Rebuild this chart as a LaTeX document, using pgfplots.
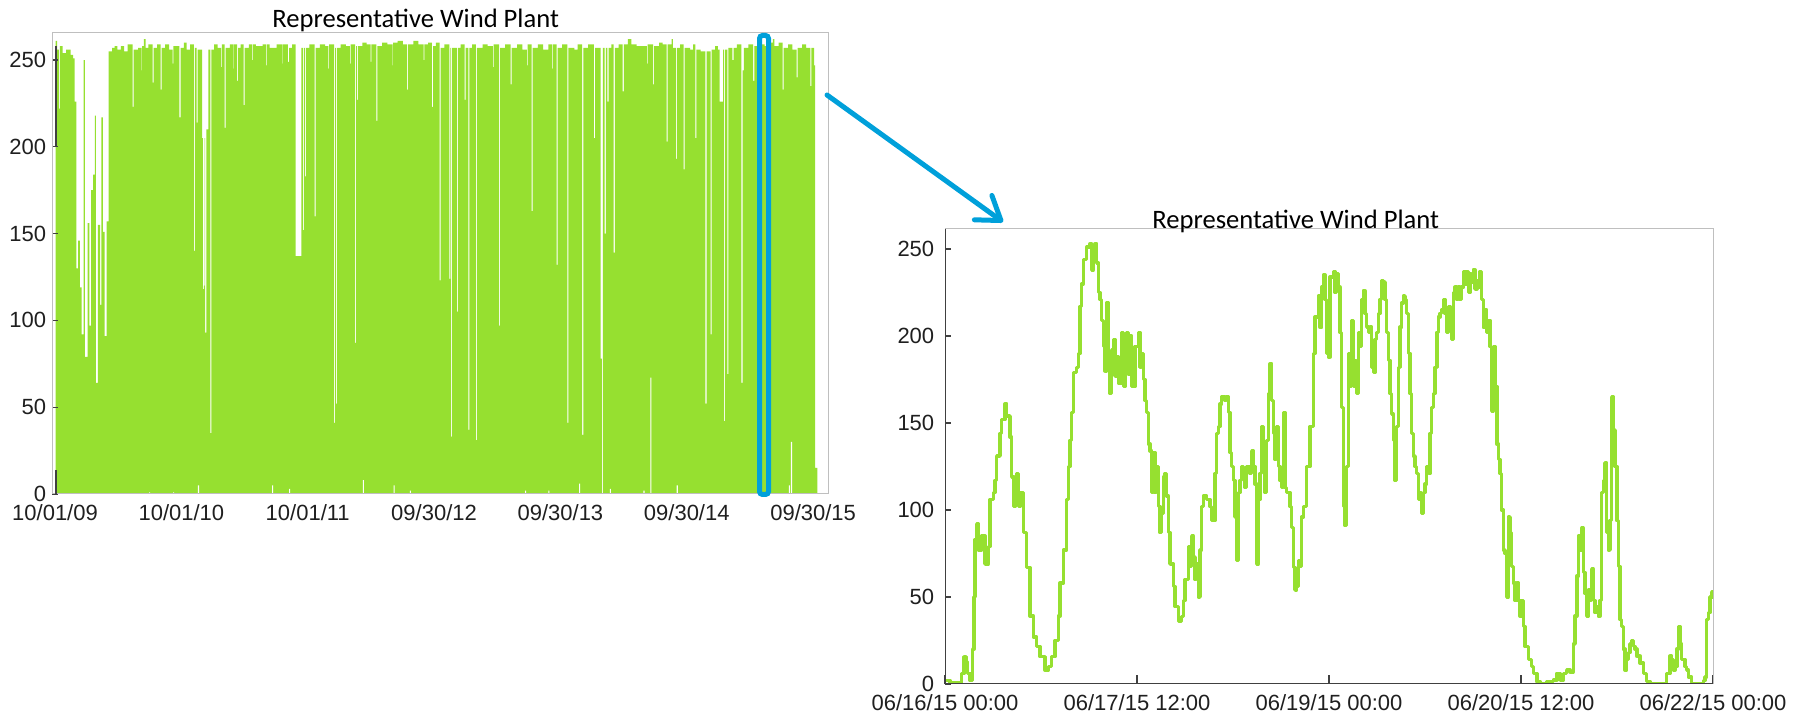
\documentclass[border=0pt]{standalone}
\usepackage{pgfplots}
\pgfplotsset{compat=1.18}
\usepackage{fontspec}
\setmainfont{Liberation Sans}
\newfontfamily\calibri{Carlito}
\usetikzlibrary{arrows.meta}
\definecolor{windgreen}{RGB}{150,224,48}
\definecolor{arrowblue}{RGB}{0,160,218}
\definecolor{framegrey}{RGB}{191,191,191}
\definecolor{axisdark}{RGB}{64,64,64}
\begin{document}
\begin{tikzpicture}
\useasboundingbox (0,0) rectangle (902pt,357.5pt);
\pgfplotsset{
  common/.style={
    scale only axis, anchor=south west,
    axis line style={framegrey, line width=0.5pt},
    tick align=inside, tick pos=left,
    tick style={axisdark, line width=0.6pt},
    major tick length=3pt,
    ytick={0,50,100,150,200,250},
    /pgf/number format/assume math mode=true,
    ticklabel style={font=\fontsize{11}{12}\selectfont, text=black!88, inner sep=0.5pt},
    xticklabel style={yshift=-4.7pt},
  }
}
% ---------------- left: six years ----------------
\begin{axis}[common, at={(26pt,110.5pt)}, width=388pt, height=230.5pt,
  xmin=-8.7, xmax=2233, ymin=0, ymax=265.6,
  xtick={0,365,730,1095,1460,1825,2190},
  xticklabels={10/01/09,10/01/10,10/01/11,09/30/12,09/30/13,09/30/14,09/30/15},
  xtick style={draw=none},
  yticklabel style={xshift=-2.2pt},
  axis on top]
% maximum envelope
\addplot[const plot, fill=windgreen, draw=none] coordinates {
(2,261) (6,256) (11,222) (14,258) (22,254) (32,256) (45,253) (52,251) (57,226)
(62,130) (67,146) (72,119) (77,92) (83,250) (86,79) (94,156) (99,97) (104,175)
(110,184) (115,218) (118,64) (124,155) (130,109) (134,217) (138,151) (143,91)
(149,157) (155,255) (165,257) (172,258) (180,256) (190,258) (200,255) (210,259)
(224,223) (227,256) (240,257) (250,244) (252,258) (257,262) (262,257) (270,259)
(282,237) (285,257) (295,259) (305,233) (308,257) (318,259) (330,256) (340,248)
(342,258) (359,217) (363,257) (372,260) (380,256) (390,259) (401,140) (404,257)
(409,214) (412,256) (425,205) (427,118) (430,120) (432,205) (434,93) (437,210)
(443,256) (449,35) (452,256) (460,259) (470,257) (480,246) (482,259) (490,211)
(493,257) (505,259) (515,245) (517,259) (526,238) (529,257) (536,259) (545,224)
(548,257) (560,259) (570,250) (572,259) (580,258) (600,259) (610,247) (612,259)
(620,257) (640,259) (655,248) (657,259) (673,249) (676,257) (685,259) (695,137)
(712,257) (716,152) (719,257) (722,183) (725,257) (735,259) (750,160) (753,257)
(765,259) (780,258) (790,245) (792,259) (806,41) (809,257) (811,52) (814,257)
(825,259) (840,258) (852,248) (854,259) (867,87) (870,258) (872,227) (875,258)
(888,260) (900,259) (912,249) (914,259) (928,215) (931,258) (945,260) (960,259)
(975,247) (977,260) (990,261) (1005,259) (1017,233) (1020,259) (1035,261)
(1050,259) (1065,250) (1067,259) (1078,260) (1089,223) (1092,258) (1100,260)
(1111,123) (1114,257) (1125,259) (1139,124) (1142,257) (1144,33) (1147,257)
(1161,105) (1164,257) (1172,259) (1183,227) (1186,257) (1194,37) (1197,257)
(1205,259) (1216,31) (1219,257) (1235,259) (1250,258) (1265,246) (1267,259)
(1283,97) (1286,257) (1300,259) (1316,236) (1319,257) (1335,259) (1350,256)
(1363,247) (1365,259) (1377,163) (1380,257) (1395,259) (1410,256) (1425,259)
(1437,245) (1439,259) (1449,132) (1452,257) (1465,259) (1480,41) (1483,257)
(1500,256) (1510,259) (1523,34) (1526,257) (1540,259) (1557,205) (1560,257)
(1576,78) (1580,0) (1583,257) (1588,150) (1591,257) (1596,226) (1599,257)
(1607,259) (1614,139) (1617,257) (1628,259) (1640,232) (1643,259) (1655,262)
(1665,259) (1680,258) (1695,258) (1710,248) (1712,259) (1728,236) (1731,258)
(1745,260) (1755,259) (1767,203) (1770,259) (1781,262) (1785,257) (1794,193)
(1797,257) (1806,259) (1816,187) (1819,257) (1835,256) (1843,259) (1850,205)
(1853,256) (1865,255) (1879,52) (1882,255) (1894,92) (1897,256) (1907,258)
(1915,256) (1920,226) (1930,256) (1933,42) (1936,256) (1942,69) (1945,257)
(1957,250) (1960,257) (1970,259) (1983,64) (1986,244) (1990,257) (2003,259)
(2017,238) (2020,258) (2035,259) (2050,258) (2062,260) (2074,262) (2078,258)
(2090,260) (2102,233) (2105,257) (2118,259) (2130,256) (2142,240) (2145,257)
(2158,259) (2170,257) (2182,235) (2185,257) (2193,247) (2196,15) (2202,15)
} \closedcycle;
% minimum envelope (gaps at the bottom)
\addplot[const plot, fill=white, draw=none] coordinates {
(2,0) (272,1) (275,0) (341,1) (344,0) (413,5) (416,0) (627,5) (630,0) (676,3)
(679,0) (889,8) (892,0) (978,5) (981,0) (1025,2) (1028,0) (1358,2) (1361,0)
(1425,2) (1428,0) (1514,6) (1517,0) (1603,3) (1606,0) (1700,2) (1703,0)
(1720,67) (1723,0) (1796,5) (1799,0) (2120,5) (2123,0) (2126,30) (2129,0) (2202,0)
} \closedcycle;
\end{axis}
% partial dark y axis line of the left panel
\draw[axisdark, line width=0.9pt] (28pt,334.5pt) -- (28pt,284pt);
\draw[axisdark, line width=0.9pt] (28pt,110.5pt) -- (28pt,122.5pt);
% ---------------- right: six days ----------------
\begin{axis}[common, at={(472.5pt,15.5pt)}, width=384pt, height=227.5pt,
  xmin=0, xmax=144, ymin=0, ymax=261.5,
  xtick={0,36,72,108,144},
  xticklabels={06/16/15 00:00,06/17/15 12:00,06/19/15 00:00,06/20/15 12:00,06/22/15 00:00},
  xtick style={/pgfplots/major tick length=4.5pt},
  yticklabel style={xshift=-4.7pt}]
\addplot[const plot, windgreen, line width=1.8pt, line join=round] coordinates {
(0,2) (0.94,0.5) (2.81,0) (3.12,6) (3.56,15.7) (3.94,13) (4.19,6) (4.69,2) (5.19,20)
(5.44,50) (5.62,83) (5.94,92) (6.25,77) (6.87,85) (7.5,69) (8.12,79) (8.44,106)
(9.06,110) (9.37,117) (9.69,131) (10.31,144) (10.62,152) (11.25,161) (11.56,154)
(12.19,142) (12.5,119) (12.81,102) (13.12,119) (13.44,121) (13.75,102) (14.06,110)
(14.69,87) (15.31,67) (15.94,39) (16.56,27) (17.19,21.5) (17.81,15.7) (18.75,8)
(19.37,10) (20,15.7) (20.62,25) (21.25,39) (21.56,58) (22.19,77) (22.81,106)
(23.12,125) (23.44,140) (23.75,156) (24.06,179) (24.69,182) (25,190) (25.31,217)
(25.62,230) (25.94,244) (26.56,251) (27.19,253) (27.5,238) (27.81,249.5) (28.12,253)
(28.44,242) (28.75,225) (29.06,221) (29.37,209) (29.69,194) (30,180) (30.31,219)
(30.62,182) (30.94,167) (31.25,192) (31.56,198) (31.87,177) (32.19,188) (32.5,173)
(33.12,202) (33.44,171) (33.75,180) (34.06,202) (34.37,178) (34.69,200) (35,171)
(35.62,194) (36.25,202) (36.56,182) (36.87,190) (37.19,175) (37.5,163) (37.81,156)
(38.12,138) (38.44,134) (38.75,110) (39.06,133) (39.37,110) (39.69,125) (40,102)
(40.31,87) (40.62,98) (40.94,119) (41.25,121) (41.56,108) (41.87,87) (42.19,69)
(42.81,56) (43.12,44.5) (43.75,36) (44.37,38.7) (44.69,48) (45,60) (45.62,79)
(45.94,67.5) (46.25,85) (46.56,73) (46.87,60) (47.19,69) (47.5,50) (47.81,77)
(48.12,102) (48.44,108) (49.06,106) (49.69,102) (50,94) (50.62,121) (50.94,144)
(51.25,148) (51.56,161) (51.87,165) (52.5,163) (52.81,165) (53.12,156) (53.44,133)
(53.75,125) (54.06,117) (54.37,96) (54.69,71) (55,110) (55.31,117) (55.62,125)
(55.94,119) (56.25,113) (56.56,125) (57.19,121) (57.5,134) (57.81,125) (58.12,115)
(58.44,69) (58.75,106) (59.06,121) (59.37,148) (59.69,129) (60,110) (60.31,140)
(60.62,167) (60.94,184) (61.25,163) (61.56,144) (61.87,129) (62.19,148) (62.5,125)
(62.81,117) (63.12,113) (63.44,156) (63.75,113) (64.06,110) (64.69,102) (65,90)
(65.31,67) (65.62,54) (65.94,56) (66.25,71) (66.56,67.5) (66.87,96) (67.19,102)
(67.81,125) (68.44,148) (69.06,190) (69.37,211) (70,223) (70.31,205) (70.62,228)
(70.94,235) (71.25,221) (71.56,190) (71.87,188) (72.19,234) (72.81,237) (73.12,225)
(73.44,236) (73.75,228) (74.06,202) (74.37,159) (74.69,102) (75,91) (75.31,125)
(75.62,190) (75.94,171) (76.25,209) (76.56,171) (76.87,186) (77.19,167) (77.5,202)
(77.81,194) (78.12,221) (78.44,226) (78.75,213) (79.06,205) (79.37,202) (79.69,205)
(80,182) (80.31,179) (80.62,198) (80.94,202) (81.25,213) (81.56,221) (81.87,232)
(82.19,231) (82.5,221) (82.81,202) (83.12,186) (83.44,167) (83.75,155) (84.06,140)
(84.37,117) (84.69,148) (85,182) (85.31,205) (85.62,219) (85.94,223) (86.25,221)
(86.56,213) (86.87,190) (87.19,167) (87.5,144) (87.81,131) (88.12,125) (88.44,121)
(88.75,106) (89.06,110) (89.37,98) (89.69,110) (90,115) (90.31,125) (90.62,121)
(90.94,144) (91.25,159) (91.56,167) (91.87,182) (92.19,202) (92.5,211) (92.81,213)
(93.12,215) (93.44,221) (93.75,213) (94.06,202) (94.37,217) (94.69,209) (95,198)
(95.31,225) (95.62,228) (95.94,221) (96.25,228) (96.56,221) (96.87,228) (97.19,237)
(97.5,230) (97.81,237) (98.12,225) (98.44,236) (98.75,231) (99.06,238) (99.37,227)
(99.69,232) (100,228) (100.31,237) (100.62,221) (100.94,205) (101.25,215) (101.56,202)
(101.87,209) (102.19,194) (102.5,157) (102.81,194) (103.12,171) (103.44,138)
(103.75,129) (104.06,121) (104.37,100) (104.69,77) (105,75) (105.31,50) (105.62,96)
(105.94,87) (106.25,67.5) (106.56,58) (106.87,48) (107.19,58) (107.5,48) (107.81,39)
(108.12,48) (108.44,33) (108.75,21.5) (109.37,14) (110,10) (110.31,6) (110.94,1.4)
(111.56,0) (112.81,1.4) (114.06,2.3) (114.69,6) (115.31,2.3) (115.94,6) (116.56,8)
(117.19,7) (117.81,23) (118.12,39) (118.44,62) (118.75,85) (119.06,77) (119.37,89.5)
(119.69,64) (120,52) (120.31,39) (120.62,54) (120.94,48) (121.25,66) (121.56,48)
(121.87,41) (122.19,44.5) (122.5,39) (122.81,48) (123.12,110) (123.44,117) (123.75,127)
(124.06,87) (124.37,77) (124.69,94) (125,165) (125.31,146) (125.62,125) (125.94,94)
(126.25,67.5) (126.56,37) (126.87,33) (127.19,20) (127.5,8) (127.81,14) (128.12,18)
(128.44,23) (128.75,25) (129.06,21.5) (129.37,20) (129.69,16) (130.31,12) (130.94,6)
(131.56,1.4) (132.19,0) (134.69,0) (135.31,6) (135.94,16) (136.25,14) (136.56,8)
(136.87,10) (137.19,20) (137.5,33) (137.81,23) (138.12,14) (138.44,14) (138.75,10)
(139.06,8) (139.37,4) (140,0) (142.19,2) (142.5,4) (142.81,37) (143.12,41) (143.44,50)
(143.75,53) (144,49)
};
\draw[axisdark, line width=1pt] (rel axis cs:0,1) -- (rel axis cs:0,0) -- (rel axis cs:1,0);
\end{axis}
% titles
\node[anchor=base west, inner sep=0pt, font=\calibri\fontsize{13.3}{15}\selectfont] at (136pt,343.5pt) {Representative Wind Plant};
\node[anchor=base west, inner sep=0pt, font=\calibri\fontsize{13.3}{15}\selectfont] at (576pt,243pt) {Representative Wind Plant};
% zoom marker and arrow
\draw[arrowblue, line width=2.5pt, rounded corners=1.5pt] (379.75pt,110.25pt) rectangle (384.25pt,339.75pt);
\draw[arrowblue, line width=2.5pt, line cap=round, -{Straight Barb[length=11pt, width=15pt, round]}] (413.5pt,310pt) -- (501.5pt,246.5pt);
\end{tikzpicture}
\end{document}
